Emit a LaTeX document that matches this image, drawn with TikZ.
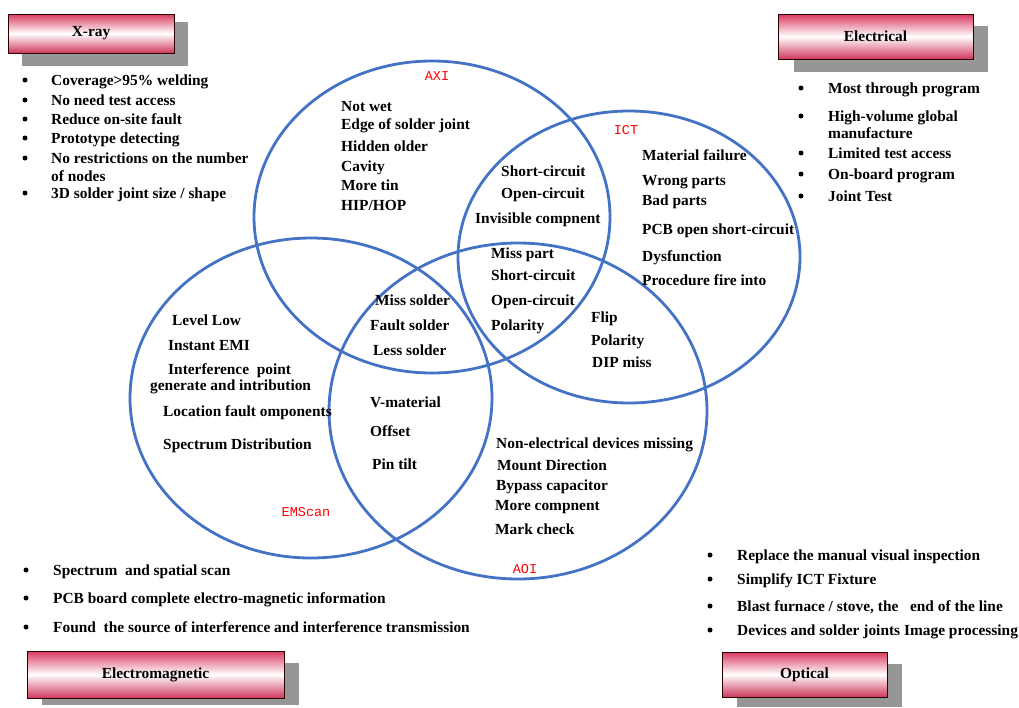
\documentclass[tikz,border=0pt]{standalone}
\usepackage{fontspec}
\setmainfont{Liberation Serif}
\newfontfamily\labfont{Liberation Mono}
\definecolor{vblue}{RGB}{68,114,196}
\definecolor{crim}{RGB}{218,58,96}
\definecolor{shadowgray}{RGB}{150,150,150}
\tikzset{
  ring/.style={draw=vblue, line width=2.8pt},
  txt/.style={anchor=west, inner sep=0pt, font=\fontsize{15.4}{17}\selectfont\bfseries, text height=12.5pt, text depth=1.5pt},
  bul/.style={circle, fill=black, inner sep=0pt, minimum size=5pt},
  vlab/.style={inner sep=0pt, text=red, font=\labfont\fontsize{13.5}{15}\selectfont},
  titlebox/.style={draw=black!85!red, line width=0.9pt, top color=crim, bottom color=crim!95!black, middle color=white, inner sep=0pt, font=\fontsize{15.4}{17}\selectfont\bfseries},
  shadowbox/.style={fill=shadowgray, draw=none},
}
\begin{document}
\begin{tikzpicture}[x=1pt,y=-1pt]
\useasboundingbox (0,0) rectangle (1019,707);
% circles
\draw[ring] (432,217) ellipse [x radius=178, y radius=156];
\draw[ring] (629,257) ellipse [x radius=171, y radius=146];
\draw[ring] (311,398) ellipse [x radius=181, y radius=160];
\draw[ring] (518,411) ellipse [x radius=189, y radius=168];
% circle labels
\node[vlab] (laxi) at (437,76) {AXI};
\node[vlab] (lict) at (626,130) {ICT};
\node[vlab] (lems) at (306,512) {EMScan};
\node[vlab] (laoi) at (525,569) {AOI};
% title boxes
\fill[shadowbox] (22,22) rectangle (188,66);
\node[titlebox, minimum width=166pt, minimum height=39pt] (txray) at (91,33.5) {X-ray};
\fill[shadowbox] (794,26) rectangle (988,72);
\node[titlebox, minimum width=195pt, minimum height=45pt] (telec) at (875.5,36.5) {Electrical};
\fill[shadowbox] (42,663) rectangle (299,705);
\node[titlebox, minimum width=257pt, minimum height=47pt] (temag) at (155.5,674.5) {Electromagnetic};
\fill[shadowbox] (737,664) rectangle (902,707);
\node[titlebox, minimum width=165pt, minimum height=45pt] (topt) at (804.5,674.5) {Optical};
% X-ray list
\foreach \y/\t [count=\i] in {80/{Coverage>95\% welding},100/{No need test access},119/{Reduce on-site fault},138/{Prototype detecting},158/{No restrictions on the number},193/{3D solder joint size / shape}}{
  \node[bul] (xb\i) at (25,\y) {};
  \node[txt] (xt\i) at (51,\y) {\t};
}
\node[txt] (xt7) at (51,176) {of nodes};
% Electrical list
\foreach \y/\t [count=\i] in {88/{Most through program},116/{High-volume global},153/{Limited test access},174/{On-board program},196/{Joint Test}}{
  \node[bul] (eb\i) at (801,\y) {};
  \node[txt] (et\i) at (828,\y) {\t};
}
\node[txt] (et6) at (828,133) {manufacture};
% AXI
\node[txt] (a1) at (341,106) {Not wet};
\node[txt] (a2) at (341,124) {Edge of solder joint};
\node[txt] (a3) at (341,146) {Hidden older};
\node[txt] (a4) at (341,166) {Cavity};
\node[txt] (a5) at (341,185) {More tin};
\node[txt] (a6) at (341,205) {HIP/HOP};
% AXI & ICT
\node[txt] (ai1) at (501,171) {Short-circuit};
\node[txt] (ai2) at (501,193) {Open-circuit};
\node[txt] (ai3) at (475,218) {Invisible compnent};
% ICT
\node[txt] (i1) at (642,155) {Material failure};
\node[txt] (i2) at (642,180) {Wrong parts};
\node[txt] (i3) at (642,200) {Bad parts};
\node[txt] (i4) at (642,229) {PCB open short-circuit};
\node[txt] (i5) at (642,256) {Dysfunction};
\node[txt] (i6) at (642,280) {Procedure fire into};
% AXI ICT AOI
\node[txt] (c1) at (491,253) {Miss part};
\node[txt] (c2) at (491,275) {Short-circuit};
\node[txt] (c3) at (491,300) {Open-circuit};
\node[txt] (c4) at (491,325) {Polarity};
% ICT AOI
\node[txt] (io1) at (591,317) {Flip};
\node[txt] (io2) at (591,340) {Polarity};
\node[txt] (io3) at (592,362) {DIP miss};
% AXI EMS AOI
\node[txt] (m1) at (375,300) {Miss solder};
\node[txt] (m2) at (370,325) {Fault solder};
\node[txt] (m3) at (373,350) {Less solder};
% EMScan
\node[txt] (s1) at (172,320) {Level Low};
\node[txt] (s2) at (168,345) {Instant EMI};
\node[txt] (s3) at (168,369) {Interference\ \ point};
\node[txt] (s4) at (150,385) {generate and intribution};
\node[txt] (s5) at (163,411) {Location fault omponents};
\node[txt] (s6) at (163,444) {Spectrum Distribution};
% EMS AOI
\node[txt] (eo1) at (370,402) {V-material};
\node[txt] (eo2) at (370,431) {Offset};
\node[txt] (eo3) at (372,464) {Pin tilt};
% AOI
\node[txt] (o1) at (496,443) {Non-electrical devices missing};
\node[txt] (o2) at (497,465) {Mount Direction};
\node[txt] (o3) at (496,485) {Bypass capacitor};
\node[txt] (o4) at (495,505) {More compnent};
\node[txt] (o5) at (495,529) {Mark check};
% Electromagnetic list
\foreach \y/\t [count=\i] in {570/{Spectrum\ \ and spatial scan},598/{PCB board complete electro-magnetic information},627/{Found\ \ the source of interference and interference transmission}}{
  \node[bul] (mb\i) at (26,\y) {};
  \node[txt] (mt\i) at (53,\y) {\t};
}
% Optical list
\foreach \y/\t [count=\i] in {555/{Replace the manual visual inspection},579/{Simplify ICT Fixture},606/{Blast furnace / stove, the\ \ \ end of the line},630/{Devices and solder joints Image processing}}{
  \node[bul] (ob\i) at (710,\y) {};
  \node[txt] (ot\i) at (737,\y) {\t};
}
\end{tikzpicture}
\end{document}
